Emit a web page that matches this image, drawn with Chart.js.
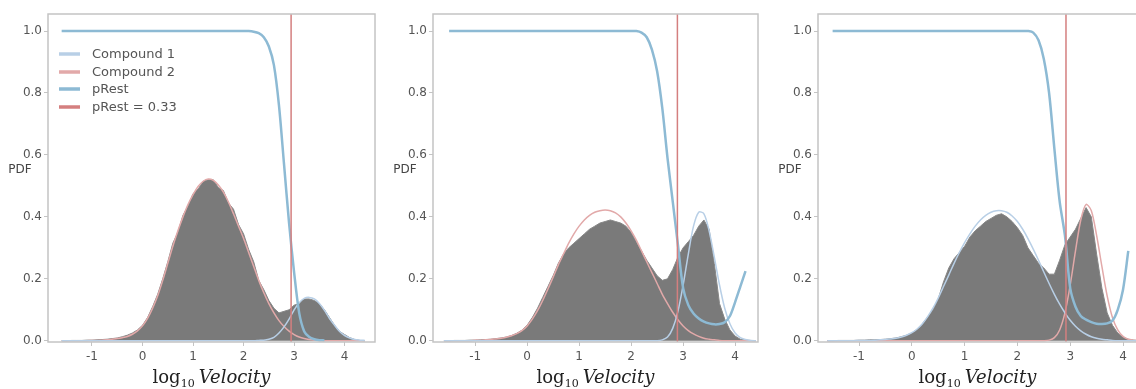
<!DOCTYPE html>
<html>
<head>
<meta charset="utf-8">
<script src="https://cdn.jsdelivr.net/npm/chart.js@4"></script>
<style>
  html, body { margin: 0; padding: 0; background: #fff; overflow: hidden; }
  body { width: 1136px; height: 389px; position: relative; }
  canvas { position: absolute; top: 0; }
</style>
</head>
<body>
<canvas id="c1" width="380" height="389" style="left:0px"></canvas>
<canvas id="c2" width="380" height="389" style="left:380px"></canvas>
<canvas id="c3" width="378" height="389" style="left:760px"></canvas>
<script>
// shared bin centres, -1.6 .. 4.4 step 0.1 (61 values)
const xs = [
  -1.6, -1.5, -1.4, -1.3, -1.2, -1.1, -1.0, -0.9, -0.8, -0.7,
  -0.6, -0.5, -0.4, -0.3, -0.2, -0.1, 0.0, 0.1, 0.2, 0.3,
  0.4, 0.5, 0.6, 0.7, 0.8, 0.9, 1.0, 1.1, 1.2, 1.3,
  1.4, 1.5, 1.6, 1.7, 1.8, 1.9, 2.0, 2.1, 2.2, 2.3,
  2.4, 2.5, 2.6, 2.7, 2.8, 2.9, 3.0, 3.1, 3.2, 3.3,
  3.4, 3.5, 3.6, 3.7, 3.8, 3.9, 4.0, 4.1, 4.2, 4.3,
  4.4
];
const xTicks = [-1, 0, 1, 2, 3, 4];
const yTicks = [0, 0.2, 0.4, 0.6, 0.8, 1.0];

// panel 1
const hist1 = [
  0, 0, 0.001, 0.001, 0.001, 0.002, 0.002, 0.003, 0.004, 0.005,
  0.007, 0.009, 0.013, 0.018, 0.025, 0.035, 0.05, 0.075, 0.11, 0.15,
  0.2, 0.255, 0.315, 0.35, 0.405, 0.435, 0.475, 0.49, 0.515, 0.52,
  0.52, 0.495, 0.485, 0.445, 0.425, 0.375, 0.345, 0.295, 0.255, 0.195,
  0.165, 0.13, 0.105, 0.09, 0.095, 0.1, 0.115, 0.12, 0.135, 0.135,
  0.13, 0.12, 0.1, 0.075, 0.05, 0.03, 0.02, 0.01, 0.004, 0.001,
  0
];
const comp1_p1 = [
  0, 0, 0, 0, 0, 0, 0, 0, 0, 0,
  0, 0, 0, 0, 0, 0, 0, 0, 0, 0,
  0, 0, 0, 0, 0, 0, 0, 0, 0, 0,
  0, 0, 0, 0, 0, 0, 0, 0, 0, 0.001,
  0.002, 0.005, 0.011, 0.025, 0.045, 0.07, 0.1, 0.123, 0.137, 0.14,
  0.135, 0.12, 0.098, 0.072, 0.05, 0.03, 0.017, 0.009, 0.004, 0.002,
  0.001
];
const comp2_p1 = [
  0, 0, 0, 0, 0, 0, 0.001, 0.001, 0.002, 0.003,
  0.005, 0.007, 0.01, 0.014, 0.021, 0.032, 0.048, 0.072, 0.105, 0.145,
  0.195, 0.25, 0.305, 0.355, 0.4, 0.44, 0.472, 0.498, 0.515, 0.522,
  0.518, 0.503, 0.48, 0.448, 0.41, 0.37, 0.33, 0.285, 0.24, 0.195,
  0.155, 0.12, 0.09, 0.065, 0.046, 0.031, 0.02, 0.012, 0.007, 0.004,
  0.002, 0.001, 0, 0, 0, 0, 0, 0, 0, 0,
  0
];
const pRest1 = [
  1, 1, 1, 1, 1, 1, 1, 1, 1, 1,
  1, 1, 1, 1, 1, 1, 1, 1, 1, 1,
  1, 1, 1, 1, 1, 1, 1, 1, 1, 1,
  1, 1, 1, 1, 1, 1, 1, 1, 0.998, 0.993,
  0.98, 0.95, 0.89, 0.76, 0.57, 0.38, 0.22, 0.09, 0.03, 0.012,
  0.005, 0.002, 0.001, null, null, null, null, null, null, null,
  null
];

// panel 2
const hist2 = [
  0, 0, 0.001, 0.001, 0.001, 0.002, 0.002, 0.003, 0.004, 0.005,
  0.007, 0.009, 0.012, 0.017, 0.024, 0.034, 0.05, 0.075, 0.105, 0.14,
  0.175, 0.21, 0.25, 0.28, 0.3, 0.315, 0.33, 0.345, 0.36, 0.37,
  0.38, 0.385, 0.39, 0.385, 0.38, 0.37, 0.35, 0.32, 0.29, 0.26,
  0.235, 0.21, 0.195, 0.2, 0.23, 0.27, 0.3, 0.32, 0.34, 0.37,
  0.39, 0.36, 0.25, 0.12, 0.07, 0.035, 0.015, 0.005, 0.002, 0.001,
  0
];
const comp1_p2 = [
  0, 0, 0, 0, 0, 0, 0, 0, 0, 0,
  0, 0, 0, 0, 0, 0, 0, 0, 0, 0,
  0, 0, 0, 0, 0, 0, 0, 0, 0, 0,
  0, 0, 0, 0, 0, 0, 0, 0, 0, 0,
  0, 0, 0.003, 0.012, 0.04, 0.095, 0.18, 0.28, 0.37, 0.415,
  0.41, 0.355, 0.27, 0.18, 0.105, 0.055, 0.025, 0.01, 0.004, 0.001,
  0
];
const comp2_p2 = [
  0, 0, 0, 0, 0, 0, 0.002, 0.002, 0.003, 0.004,
  0.006, 0.008, 0.011, 0.016, 0.023, 0.033, 0.048, 0.07, 0.097, 0.13,
  0.167, 0.205, 0.245, 0.28, 0.315, 0.345, 0.37, 0.39, 0.405, 0.415,
  0.42, 0.422, 0.42, 0.413, 0.4, 0.38, 0.355, 0.325, 0.29, 0.255,
  0.22, 0.185, 0.15, 0.12, 0.092, 0.068, 0.048, 0.033, 0.022, 0.014,
  0.008, 0.005, 0.003, 0.001, 0, 0, 0, 0, 0, 0,
  0
];
const pRest2 = [
  null, 1, 1, 1, 1, 1, 1, 1, 1, 1,
  1, 1, 1, 1, 1, 1, 1, 1, 1, 1,
  1, 1, 1, 1, 1, 1, 1, 1, 1, 1,
  1, 1, 1, 1, 1, 1, 1, 1, 0.995, 0.98,
  0.94, 0.87, 0.75, 0.59, 0.45, 0.31, 0.17, 0.115, 0.088, 0.072,
  0.062, 0.056, 0.053, 0.054, 0.06, 0.08, 0.125, 0.175, 0.225, null,
  null
];

// panel 3
const hist3 = [
  0, 0, 0.001, 0.001, 0.001, 0.001, 0.002, 0.002, 0.003, 0.003,
  0.004, 0.005, 0.007, 0.009, 0.013, 0.018, 0.025, 0.037, 0.055, 0.077,
  0.1, 0.135, 0.19, 0.235, 0.265, 0.285, 0.305, 0.335, 0.355, 0.37,
  0.385, 0.395, 0.405, 0.41, 0.4, 0.385, 0.365, 0.34, 0.3, 0.275,
  0.25, 0.235, 0.215, 0.215, 0.26, 0.31, 0.335, 0.36, 0.395, 0.43,
  0.4, 0.28, 0.17, 0.09, 0.05, 0.025, 0.012, 0.005, 0.002, 0.001,
  0
];
const comp1_p3 = [
  0, 0, 0, 0, 0, 0, 0.001, 0.001, 0.001, 0.002,
  0.003, 0.004, 0.006, 0.008, 0.012, 0.018, 0.026, 0.038, 0.055, 0.078,
  0.105, 0.138, 0.175, 0.212, 0.25, 0.285, 0.317, 0.345, 0.37, 0.39,
  0.405, 0.415, 0.42, 0.42, 0.415, 0.403, 0.385, 0.36, 0.33, 0.296,
  0.26, 0.222, 0.185, 0.15, 0.118, 0.09, 0.066, 0.047, 0.032, 0.021,
  0.013, 0.008, 0.005, 0.003, 0.001, 0, 0, 0, 0, 0,
  0
];
const comp2_p3 = [
  0, 0, 0, 0, 0, 0, 0, 0, 0, 0,
  0, 0, 0, 0, 0, 0, 0, 0, 0, 0,
  0, 0, 0, 0, 0, 0, 0, 0, 0, 0,
  0, 0, 0, 0, 0, 0, 0, 0, 0, 0,
  0, 0, 0.002, 0.01, 0.035, 0.09, 0.18, 0.29, 0.39, 0.44,
  0.42, 0.34, 0.24, 0.145, 0.075, 0.035, 0.014, 0.005, 0.002, 0,
  0
];
const pRest3 = [
  null, 1, 1, 1, 1, 1, 1, 1, 1, 1,
  1, 1, 1, 1, 1, 1, 1, 1, 1, 1,
  1, 1, 1, 1, 1, 1, 1, 1, 1, 1,
  1, 1, 1, 1, 1, 1, 1, 1, 1, 0.995,
  0.97, 0.91, 0.8, 0.62, 0.45, 0.34, 0.17, 0.11, 0.08, 0.068,
  0.06, 0.055, 0.054, 0.056, 0.065, 0.1, 0.165, 0.29, null, null,
  null
];

const thresholds = [2.94, 2.89, 2.92];
const legendLabels = ["Compound 1", "Compound 2", "pRest", "pRest = 0.33"];

const C1 = "#b8cfe6";
const C2 = "#e2a9a9";
const PREST = "#8dbad4";
const THRESH = "#d47f7f";
const HIST = "#7a7a7a";
const FRAME = "#c4c4c4";

Chart.defaults.font.family = "'DejaVu Sans', sans-serif";
Chart.defaults.color = "#555";

const panels = [
  { id: "c1", xMin: -1.87, xMax: 4.6, yWidth: 48, padRight: 5, hist: hist1, c1: comp1_p1, c2: comp2_p1, pRest: pRest1, legend: true },
  { id: "c2", xMin: -1.81, xMax: 4.44, yWidth: 53, padRight: 2, hist: hist2, c1: comp1_p2, c2: comp2_p2, pRest: pRest2, legend: false },
  { id: "c3", xMin: -1.777, xMax: 4.265, yWidth: 58, padRight: 1, hist: hist3, c1: comp1_p3, c2: comp2_p3, pRest: pRest3, legend: false },
];

const pts = (arr) => xs.map((x, i) => ({ x: x, y: arr[i] }));

// frame, PDF label, x title and legend
const decorPlugin = {
  id: "decor",
  afterDatasetsDraw(chart, args, opts) {
    const { ctx, chartArea: a } = chart;
    ctx.save();
    ctx.strokeStyle = FRAME;
    ctx.lineWidth = 1.5;
    ctx.strokeRect(a.left, a.top, a.right - a.left, a.bottom - a.top);

    if (opts.legend) {
      const cols = [C1, C2, PREST, THRESH];
      const rowY = [54, 72, 89, 107];
      ctx.font = "13px 'DejaVu Sans'";
      ctx.textBaseline = "middle";
      legendLabels.forEach((lab, i) => {
        ctx.strokeStyle = cols[i];
        ctx.lineWidth = 3.5;
        ctx.beginPath();
        ctx.moveTo(a.left + 11, rowY[i]);
        ctx.lineTo(a.left + 32, rowY[i]);
        ctx.stroke();
        ctx.fillStyle = "#555";
        ctx.fillText(lab, a.left + 44, rowY[i] + 1);
      });
    }
    ctx.restore();
  },
  afterDraw(chart) {
    const { ctx, chartArea: a } = chart;
    ctx.save();
    ctx.fillStyle = "#444";
    ctx.font = "12px 'DejaVu Sans'";
    ctx.textAlign = "center";
    ctx.textBaseline = "middle";
    ctx.fillText("PDF", a.left - 28, 170);

    const f1 = "18px 'DejaVu Serif'";
    const f2 = "11px 'DejaVu Serif'";
    const f3 = "italic 18px 'DejaVu Serif'";
    ctx.font = f1; const w1 = ctx.measureText("log").width;
    ctx.font = f2; const w2 = ctx.measureText("10").width;
    ctx.font = f3; const w3 = ctx.measureText("Velocity").width;
    const gap = 4;
    let x = (a.left + a.right) / 2 - (w1 + w2 + gap + w3) / 2;
    const base = 383;
    ctx.textAlign = "left";
    ctx.textBaseline = "alphabetic";
    ctx.fillStyle = "#222";
    ctx.font = f1; ctx.fillText("log", x, base); x += w1;
    ctx.font = f2; ctx.fillText("10", x, base + 4); x += w2 + gap;
    ctx.font = f3; ctx.fillText("Velocity", x, base);
    ctx.restore();
  }
};

panels.forEach((p, k) => {
  const t = thresholds[k];
  new Chart(document.getElementById(p.id), {
    type: "line",
    data: {
      datasets: [
        { label: "hist", data: pts(p.hist), borderColor: "#868686", borderWidth: 1, backgroundColor: HIST, fill: "origin", pointRadius: 0, tension: 0, order: 5 },
        { label: "Compound 1", data: pts(p.c1), borderColor: C1, borderWidth: 1.5, pointRadius: 0, tension: 0.3, fill: false, order: 3 },
        { label: "Compound 2", data: pts(p.c2), borderColor: C2, borderWidth: 1.5, pointRadius: 0, tension: 0.3, fill: false, order: 3 },
        { label: "pRest", data: pts(p.pRest), borderColor: PREST, borderWidth: 2.5, pointRadius: 0, tension: 0.3, fill: false, spanGaps: false, order: 2 },
        { label: "pRest = 0.33", data: [{ x: t, y: -0.004 }, { x: t, y: 1.055 }], borderColor: THRESH, borderWidth: 1.5, pointRadius: 0, fill: false, order: 1 },
      ],
    },
    options: {
      responsive: false,
      animation: false,
      layout: { padding: { top: 14, right: p.padRight, left: 0, bottom: 0 } },
      plugins: {
        legend: { display: false },
        tooltip: { enabled: false },
        decor: { legend: p.legend },
      },
      scales: {
        x: {
          type: "linear",
          min: p.xMin,
          max: p.xMax,
          afterBuildTicks: (ax) => { ax.ticks = xTicks.map((v) => ({ value: v })); },
          afterFit: (ax) => { ax.height = 47; },
          ticks: {
            padding: 4,
            font: { size: 12 },
            color: "#555",
            maxRotation: 0,
            callback: (v) => String(v),
          },
          grid: { drawOnChartArea: false, drawTicks: true, tickLength: 4, color: FRAME },
          border: { display: false },
        },
        y: {
          min: -0.004,
          max: 1.055,
          afterBuildTicks: (ax) => { ax.ticks = yTicks.map((v) => ({ value: v })); },
          afterFit: (ax) => { ax.width = p.yWidth; },
          ticks: {
            padding: 2,
            font: { size: 12 },
            color: "#555",
            callback: (v) => v.toFixed(1),
          },
          grid: { drawOnChartArea: false, drawTicks: true, tickLength: 4, color: FRAME },
          border: { display: false },
        },
      },
    },
    plugins: [decorPlugin],
  });
});
</script>
</body>
</html>
